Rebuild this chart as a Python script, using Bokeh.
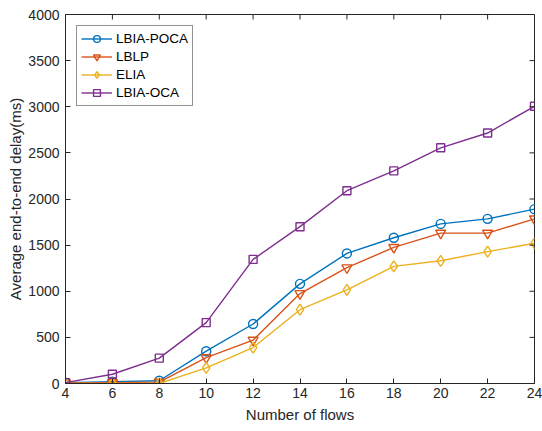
import math
from bokeh.plotting import figure
from bokeh.models import FixedTicker, Range1d, Legend, LegendItem
from bokeh.embed import file_html
from bokeh.resources import INLINE

flows = [4, 6, 8, 10, 12, 14, 16, 18, 20, 22, 24]
y_ticks = [0, 500, 1000, 1500, 2000, 2500, 3000, 3500, 4000]
lbia_poca = [10, 20, 30, 350, 645, 1080, 1410, 1580, 1730, 1785, 1890]
lblp = [5, 10, 15, 280, 470, 975, 1255, 1475, 1630, 1630, 1785]
elia = [0, 0, 0, 170, 390, 800, 1015, 1270, 1330, 1430, 1520]
lbia_oca = [10, 100, 275, 660, 1345, 1700, 2090, 2305, 2555, 2715, 3005]

series = [
    ("LBIA-POCA", lbia_poca, "#0072BD", "circle", 9),
    ("LBLP", lblp, "#D95319", "inverted_triangle", 10),
    ("ELIA", elia, "#EDB120", "diamond", 11),
    ("LBIA-OCA", lbia_oca, "#7E2F8E", "square", 8),
]

FONT = "Liberation Sans"
TXT = "#262626"
X_MIN, X_MAX = 4, 24
Y_MIN, Y_MAX = 0, 4000

p = figure(width=542, height=431, output_backend="svg", toolbar_location=None,
           x_range=Range1d(X_MIN, X_MAX), y_range=Range1d(Y_MIN, Y_MAX),
           min_border_left=65, min_border_right=8, min_border_top=14,
           min_border_bottom=48)
p.grid.visible = False
p.outline_line_color = TXT
p.outline_line_width = 1

items = []
for name, vals, color, marker, size in series:
    r1 = p.line(flows, vals, line_color=color, line_width=1.4)
    r2 = p.scatter(flows, vals, marker=marker, size=size, line_color=color,
                   fill_color=None, line_width=1.4)
    items.append(LegendItem(label=name, renderers=[r1, r2]))

for ax in (p.xaxis[0], p.yaxis[0]):
    ax.major_tick_in = 5
    ax.major_tick_out = 0
    ax.minor_tick_in = 0
    ax.minor_tick_out = 0
    ax.axis_line_color = TXT
    ax.major_tick_line_color = TXT
    ax.major_label_text_font = FONT
    ax.major_label_text_font_size = "14px"
    ax.major_label_text_color = TXT
    ax.axis_label_text_font = FONT
    ax.axis_label_text_font_size = "15px"
    ax.axis_label_text_font_style = "normal"
    ax.axis_label_text_color = TXT

p.xaxis[0].ticker = FixedTicker(ticks=flows)
p.yaxis[0].ticker = FixedTicker(ticks=y_ticks)
p.xaxis[0].axis_label = "Number of flows"
p.yaxis[0].axis_label = "Average end-to-end delay(ms)"
p.xaxis[0].major_label_standoff = 4
p.yaxis[0].major_label_standoff = 6
p.xaxis[0].axis_label_standoff = 5
p.yaxis[0].axis_label_standoff = 1

# inward ticks mirrored on the top and right edges of the box
p.ray(x=flows, y=[Y_MAX] * len(flows), length=5, length_units="screen",
      angle=-math.pi / 2, line_color=TXT, line_width=1)
p.ray(x=[X_MAX] * len(y_ticks), y=y_ticks, length=5, length_units="screen",
      angle=math.pi, line_color=TXT, line_width=1)

legend = Legend(items=items, location="top_left")
legend.label_text_font = FONT
legend.label_text_font_size = "13.5px"
legend.label_text_color = "black"
legend.border_line_color = TXT
legend.border_line_width = 1
legend.glyph_width = 31
legend.glyph_height = 17
legend.label_height = 17
legend.label_standoff = 4
legend.spacing = 1
legend.padding = 4
legend.margin = 11
legend.background_fill_color = "white"
p.add_layout(legend)

open("out.html", "w").write(file_html(p, INLINE))
